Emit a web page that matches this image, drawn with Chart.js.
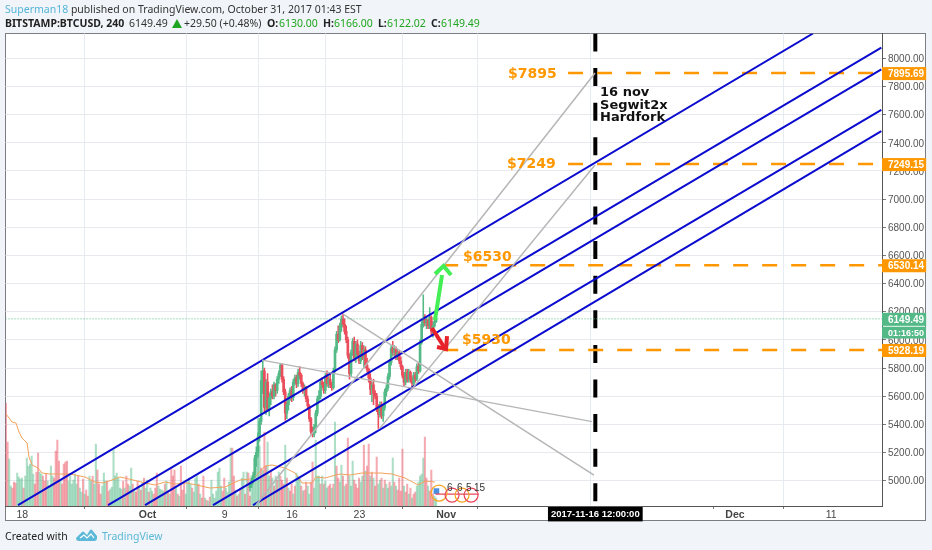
<!DOCTYPE html>
<html><head><meta charset="utf-8">
<script src="https://cdn.jsdelivr.net/npm/chart.js@4"></script>
<style>
html,body{margin:0;padding:0;background:#f1f4f8;width:932px;height:550px;overflow:hidden}
.t{position:absolute;white-space:nowrap;font-family:"Noto Sans",sans-serif;font-size:10.5px;line-height:14px;color:#333}
.b{font-weight:bold;color:#222}.g{color:#1fa51f}
#frame{position:absolute;left:5px;top:33px;width:919px;height:486px;background:#fff;border:1px solid #7a7d82}
canvas{position:absolute;left:0;top:0}
svg{position:absolute}
</style></head><body>
<div id="frame"></div>
<canvas id="c" width="932" height="550"></canvas>
<div class="t" style="left:5px;top:2px"><span style="color:#55b5d9">Superman18</span> published on TradingView.com, October 31, 2017 01:43 EST</div>
<div class="t b" style="left:5px;top:16px">BITSTAMP:BTCUSD, 240</div>
<div class="t" style="left:129px;top:16px">6149.49</div>
<svg style="left:172px;top:19px" width="10" height="9"><path d="M5 0L10 9H0Z" fill="#1fa51f"/></svg>
<div class="t" style="left:184px;top:16px">+29.50 (+0.48%)</div>
<div class="t b" style="left:267px;top:16px">O:</div><div class="t g" style="left:279px;top:16px">6130.00</div>
<div class="t b" style="left:323px;top:16px">H:</div><div class="t g" style="left:334px;top:16px">6166.00</div>
<div class="t b" style="left:378px;top:16px">L:</div><div class="t g" style="left:387px;top:16px">6122.02</div>
<div class="t b" style="left:431px;top:16px">C:</div><div class="t g" style="left:441px;top:16px">6149.49</div>
<div class="t" style="left:5px;top:529px;color:#222">Created with</div>
<svg style="left:76px;top:529px" width="21" height="13"><path d="M0 9L6 3Q7 2 8 3L11 6L14 1Q15 0 16 1L21 7L21 9Q21 12 18 12L3 12Q0 12 0 9Z" fill="#5bb8d8"/><path d="M4 9L8 6L11 9L15 5L18 9" stroke="#fff" stroke-width="1.2" fill="none"/></svg>
<div class="t" style="left:102px;top:529px;color:#5bb8d8">TradingView</div>
<script>
// x axis unit: days since 1 Oct 2017
const xTickDays=[-13,0,8,15,22,31,61,71,46.5];
const xTickLabels=['18','Oct','9','16','23','Nov','Dec','11','2017-11-16 12:00:00'];
const yTicks=[5000,5200,5400,5600,5800,6000,6200,6400,6600,6800,7000,7200,7400,7600,7800,8000];
const tagValues=[7895.69,7249.15,6530.14,5928.19,6149.49,6055];
const tagLabels=['7895.69','7249.15','6530.14','5928.19','6149.49','01:16:50'];
const tagColors=['#ff9800','#ff9800','#ff9800','#ff9800','#53b987','#53b987'];
const firstBarDay=-14.7, barsPerDay=6, firstCandleBar=152;
const volumeValues=[
103,64,47,20,18,24,23,33,29,27,28,18,30,48,40,42,50,32,22,34,
53,34,32,30,25,32,25,20,40,30,28,55,66,45,25,22,42,44,45,25,
30,22,26,32,22,30,18,14,27,12,16,10,30,25,30,22,62,36,22,12,
20,33,25,25,15,17,19,56,30,33,28,18,17,25,18,30,22,20,38,22,
15,14,25,20,16,24,28,18,26,14,18,15,12,18,33,20,17,16,15,22,
25,15,12,38,30,36,20,12,10,40,16,22,12,24,28,22,18,14,28,30,
22,12,8,30,8,6,5,9,26,12,8,15,34,38,20,15,28,18,14,24,
58,58,30,16,10,12,18,28,34,12,34,33,10,30,25,30,48,88,60,38,
36,74,40,64,30,36,28,20,30,26,34,30,26,22,61,28,18,15,22,12,
20,33,30,28,20,15,16,24,20,12,24,44,18,66,30,30,22,30,22,25,
18,20,22,18,22,84,40,28,24,41,30,20,22,68,30,20,45,26,22,18,
28,24,30,61,35,40,62,30,34,28,20,49,22,26,28,18,26,22,18,24,
20,48,24,20,16,28,15,57,20,14,22,12,18,8,12,14,20,24,30,32,
48,69,28,20,15,36,12,10,8];
const volumeUp=
"RRGGRRRGGGGRGGGGGGRR"+"RGGRRRGGGGRRRRGRRRRG"+"GGGGGRGGRGRRGGRGGRRR"+"GGGRRGGGGGGGGRGRRGGR"+
"GRRGRGRGGRGGRRRGGGGR"+"GRGRRRGRGRRRGGGGRGGG"+"RGRRGRGRGGGGGGGRRGGG"+"GRRGRGRGGRGRRGGGGGGR"+
"GRRGGRGRGRGRRRGRGRRG"+"RGGGRGRRGGRRGGGGRGRG"+"GRRGRGRRGGRGRRGGGRRR"+"RGGRGRRGRGRRGGRGRGGR"+
"GGRGRRRRGRRGRGRRGGGG"+"GRRGRRRGG";
const candleOpen=[4950,4970,5000,5040,5160,5200,5310,5420,5710,5780,5520,5700,5500,5590,5630,5600,5680,5640,5720,5760,5820,5720,5630,5480,5540,5600,5640,5590,5700,5730,5690,5770,5750,5690,5640,5660,5580,5530,5440,5350,5330,5380,5480,5580,5600,5700,5680,5640,5740,5690,5720,5680,5660,5780,5930,6040,6000,6100,6150,6110,6060,6000,5890,5760,5910,5990,5870,5970,5900,5850,5960,5880,5930,5820,5790,5730,5650,5680,5620,5600,5510,5470,5540,5460,5520,5630,5660,5740,5840,5940,5910,5940,5880,5910,5850,5810,5750,5700,5770,5720,5770,5720,5690,5750,5720,5810,5780,5980,6110,6150,6120,6140,6100,6160,6060,6100,6130];
const candleHigh=[4990,5020,5060,5180,5240,5340,5440,5780,5850,5800,5720,5760,5620,5650,5680,5700,5690,5740,5780,5830,5830,5740,5650,5560,5620,5660,5670,5720,5750,5750,5790,5810,5760,5700,5680,5670,5600,5540,5450,5380,5400,5500,5600,5640,5720,5730,5700,5760,5780,5740,5770,5700,5800,5950,6060,6100,6120,6170,6185,6150,6100,6020,5900,5930,6010,6020,5990,6000,5920,5990,5980,5960,5950,5870,5800,5760,5700,5720,5640,5620,5540,5560,5560,5540,5650,5680,5760,5860,5960,5990,5960,5950,5930,5920,5880,5820,5770,5790,5790,5790,5780,5740,5770,5770,5830,5840,6000,6130,6320,6180,6160,6150,6230,6170,6130,6166,6166];
const candleLow=[4925,4950,4980,5020,5100,5170,5280,5400,5620,5480,5470,5490,5460,5540,5580,5580,5600,5620,5690,5740,5700,5610,5430,5440,5500,5570,5560,5570,5680,5660,5670,5720,5670,5620,5600,5560,5510,5420,5330,5310,5310,5340,5460,5560,5580,5660,5620,5620,5670,5660,5660,5640,5650,5770,5910,5980,5990,6060,6090,6040,5980,5870,5720,5740,5890,5850,5840,5880,5830,5830,5860,5800,5800,5770,5700,5610,5560,5540,5580,5490,5370,5450,5440,5420,5500,5600,5640,5720,5820,5890,5880,5860,5860,5830,5790,5730,5670,5680,5700,5700,5700,5650,5670,5700,5710,5760,5770,5970,6090,6100,6080,6080,6080,6030,6020,6090,6122];
const candleClose=[4970,5000,5040,5160,5200,5310,5420,5710,5780,5520,5700,5500,5590,5630,5600,5680,5640,5720,5760,5820,5720,5630,5480,5540,5600,5640,5590,5700,5730,5690,5770,5750,5690,5640,5660,5580,5530,5440,5350,5330,5380,5480,5580,5600,5700,5680,5640,5740,5690,5720,5680,5660,5780,5930,6040,6000,6100,6150,6110,6060,6000,5890,5760,5910,5990,5870,5970,5900,5850,5960,5880,5930,5820,5790,5730,5650,5680,5620,5600,5510,5470,5540,5460,5520,5630,5660,5740,5840,5940,5910,5940,5880,5910,5850,5810,5750,5700,5770,5720,5770,5720,5690,5750,5720,5810,5780,5980,6110,6150,6120,6140,6100,6160,6060,6100,6130,6149.49];
const maDays=[-14.69,-14.07,-13.66,-13.35,-13.03,-12.51,-12.31,-11.99,-11.37,-10.96,-10.12,-9.09,-8.05,-7.53,-6.49,-5.45,-4.62,-3.69,-2.86,-1.92,-0.26,0.78,1.82,2.86,4.1,6.49,8.05,9.6,10.64,10.96,12.2,12.93,14.28,15.32,16.04,17.08,17.5,18.43,19.16,19.99,21.03,22.27,24.14,25.39,26.74,28.09,28.82,29.85];
const maValues=[92,84,83,74,68,63,49,41,38,33,32,32,32,31,29,24,23,26,29,27,23,21,24,22,23,18,19,26,27,27,40,41,38,33,23,23,29,28,30,32,31,33,33,32,28,21,25,24];
const channelLines=[[-13.45,4826,69.1,8177],[-4.1,4826,76.2,8076],[-0.26,4826,76.2,7922],[6.8,4826,76.2,7635],[10.96,4826,76.2,7484]];
const greyLines=[[11.89,5856,46.16,5419],[20.3,6183,46.36,5039],[11.27,4826,46.47,7896],[24.14,5373,46.47,7242]];
const levelLines=[[43.67,7895.69],[43.67,7249.15],[30.7,6530.14],[30.7,5928.19]];
const lastPrice=6149.49, eventDay=46.5;
const greenArrow=[[[29.85,6141],[30.58,6461]],[[29.85,6468],[30.74,6525],[31.52,6461]]];
const redArrow=[[[29.54,6084],[30.79,5949]],[[30.06,5949],[31.0,5935],[31.1,6027]]];
const notes=[
 ['$7895',37.43,7889,'#ff9800','bold 14px "DejaVu Sans"'],
 ['$7249',37.33,7250,'#ff9800','bold 14px "DejaVu Sans"'],
 ['$6530',32.76,6589,'#ff9800','bold 14px "DejaVu Sans"'],
 ['$5930',32.66,5999,'#ff9800','bold 14px "DejaVu Sans"'],
 ['16 nov',46.99,7754,'#111','bold 13px "DejaVu Sans"'],
 ['Segwit2x',46.99,7662,'#111','bold 13px "DejaVu Sans"'],
 ['Hardfork',46.99,7576,'#111','bold 13px "DejaVu Sans"'],
 ['6',31.1,4947,'#333','10px "Liberation Sans"'],
 ['6',32.14,4947,'#333','10px "Liberation Sans"'],
 ['5',33.07,4947,'#333','10px "Liberation Sans"'],
 ['15',33.9,4947,'#333','10px "Liberation Sans"']];
// economic-event badges under the price chart: [day, price, radius px, colour]
const badges=[[30.27,4911,8,'#f6a623'],[31.62,4897,7,'#e8455a'],[32.66,4897,7,'#f6a623'],[33.6,4897,7,'#e8455a']];
const badgeFlag=[[29.9,4904],[34.4,4904]], badgeIcon=[30.0,4925];

const UP='#53b987', DOWN='#eb4d5c';
const barDay=i=>firstBarDay+i/barsPerDay;
const pts=a=>a.map(p=>({x:p[0],y:p[1]}));
const tv=c=>c.tick?c.tick.value:undefined;
const lineDs=(data,color,width,extra)=>Object.assign({type:'line',data,borderColor:color,borderWidth:width,pointRadius:0,tension:0,order:1,fill:false},extra||{});
const datasets=[];
datasets.push({type:'bar',yAxisID:'yv',order:5,barThickness:1.4,grouped:false,
 data:volumeValues.map((v,i)=>({x:barDay(i),y:v})),
 backgroundColor:volumeValues.map((v,i)=>volumeUp[i]==='G'?'rgba(83,185,135,.48)':'rgba(235,77,92,.48)')});
datasets.push(lineDs(maDays.map((d,i)=>({x:d,y:maValues[i]})),'#f2a25c',1,{yAxisID:'yv',order:4}));
datasets.push({type:'bar',yAxisID:'y',order:3,barThickness:0.9,grouped:false,
 data:candleHigh.map((h,i)=>({x:barDay(i+firstCandleBar),y:[candleLow[i],h]})),
 backgroundColor:candleClose.map((c,i)=>c>=candleOpen[i]?UP:DOWN)});
datasets.push({type:'bar',yAxisID:'y',order:2,barThickness:2,grouped:false,
 data:candleOpen.map((o,i)=>({x:barDay(i+firstCandleBar),y:[o,candleClose[i]]})),
 backgroundColor:candleClose.map((c,i)=>c>=candleOpen[i]?UP:DOWN)});
datasets.push(lineDs([{x:-14.75,y:lastPrice},{x:76.27,y:lastPrice}],'#53b987',1,{borderDash:[1,2]}));
greyLines.forEach(l=>datasets.push(lineDs([{x:l[0],y:l[1]},{x:l[2],y:l[3]}],'#b6b6b6',1.5)));
channelLines.forEach(l=>datasets.push(lineDs([{x:l[0],y:l[1]},{x:l[2],y:l[3]}],'#0b0bcf',2)));
levelLines.forEach(l=>datasets.push(lineDs([{x:l[0],y:l[1]},{x:76.27,y:l[1]}],'#ff9800',2.5,{borderDash:[15,14]})));
datasets.push(lineDs([{x:eventDay,y:8177},{x:eventDay,y:4819.5}],'#000',4,{borderDash:[18,16.6]}));
greenArrow.forEach(a=>datasets.push(lineDs(pts(a),'#44ee55',4,{order:0})));
redArrow.forEach(a=>datasets.push(lineDs(pts(a),'#e8222a',4,{order:0})));
datasets.push(lineDs(badges.map(b=>({x:b[0],y:b[1]})),'transparent',0,{order:0,showLine:false,pointRadius:badges.map(b=>b[2]),pointBackgroundColor:'transparent',pointBorderColor:badges.map(b=>b[3]),pointBorderWidth:1.2}));
datasets.push(lineDs(pts(badgeFlag),'#e8455a',1.2,{order:0}));
datasets.push(lineDs([{x:badgeIcon[0],y:badgeIcon[1]}],'transparent',0,{order:0,showLine:false,pointStyle:'rect',pointRadius:4,pointBackgroundColor:'#4a90e2',pointBorderWidth:0}));

const notesPlugin={id:'notes',afterDatasetsDraw(ch){
 const c=ch.ctx,x=ch.scales.x,y=ch.scales.y;c.save();c.textBaseline='middle';c.textAlign='left';
 notes.forEach(n=>{c.font=n[4];c.fillStyle=n[3];c.fillText(n[0],x.getPixelForValue(n[1]),y.getPixelForValue(n[2]));});
 c.restore();}};

new Chart(document.getElementById('c'),{
 data:{datasets},
 plugins:[notesPlugin],
 options:{responsive:false,animation:false,devicePixelRatio:1,
  layout:{autoPadding:false,padding:{left:5.5,top:33.5,right:0,bottom:0}},
  plugins:{legend:{display:false},tooltip:{enabled:false}},
  scales:{
   x:{type:'linear',position:'bottom',min:-14.75,max:76.27,offset:false,
    afterFit:s=>{s.height=44;s.paddingLeft=0;s.paddingRight=0},
    afterBuildTicks:s=>{s.ticks=xTickDays.map(v=>({value:v}))},
    border:{color:'#555',width:1},
    grid:{color:c=>tv(c)===eventDay?'transparent':'#e7ecf2',tickColor:'#777',tickLength:3,lineWidth:1},
    ticks:{autoSkip:false,maxRotation:0,padding:0,
     callback:(v)=>xTickLabels[xTickDays.indexOf(v)],
     color:c=>tv(c)===eventDay?'#fff':'#444',
     font:c=>{const v=tv(c);const bold=[0,31,61,eventDay].includes(v);return {family:'"Liberation Sans"',size:v===eventDay?9.5:10.5,weight:bold?'bold':'normal'}},
     showLabelBackdrop:c=>tv(c)===eventDay,
     backdropColor:'#000',backdropPadding:{left:3,right:3,top:2,bottom:1}}},
   y:{type:'linear',position:'right',min:4819.5,max:8177,
    afterFit:s=>{s.width=50;s.paddingTop=0;s.paddingBottom=0},
    afterBuildTicks:s=>{s.ticks=yTicks.concat(tagValues).map(v=>({value:v}))},
    border:{color:'#555',width:1},
    grid:{color:c=>yTicks.includes(tv(c))?'#e7e9ee':'transparent',borderDash:[1,2],
     tickColor:c=>yTicks.includes(tv(c))?'#777':'transparent',tickLength:4},
    ticks:{autoSkip:false,padding:2,labelOffset:1,
     callback:(v)=>{const i=tagValues.indexOf(v);return i>=0?tagLabels[i]:v.toFixed(2)},
     color:c=>tagValues.includes(tv(c))?'#fff':'#555',
     font:c=>({family:'"Liberation Sans"',size:tv(c)===6055?9:10,weight:tagValues.includes(tv(c))?'bold':'normal'}),
     showLabelBackdrop:c=>tagValues.includes(tv(c)),
     backdropColor:c=>{const i=tagValues.indexOf(tv(c));return i>=0?tagColors[i]:'transparent'},
     backdropPadding:{left:6,right:2,top:1,bottom:0}}},
   yv:{type:'linear',display:false,min:0,max:472.5}
  }}
});
</script>
</body></html>
